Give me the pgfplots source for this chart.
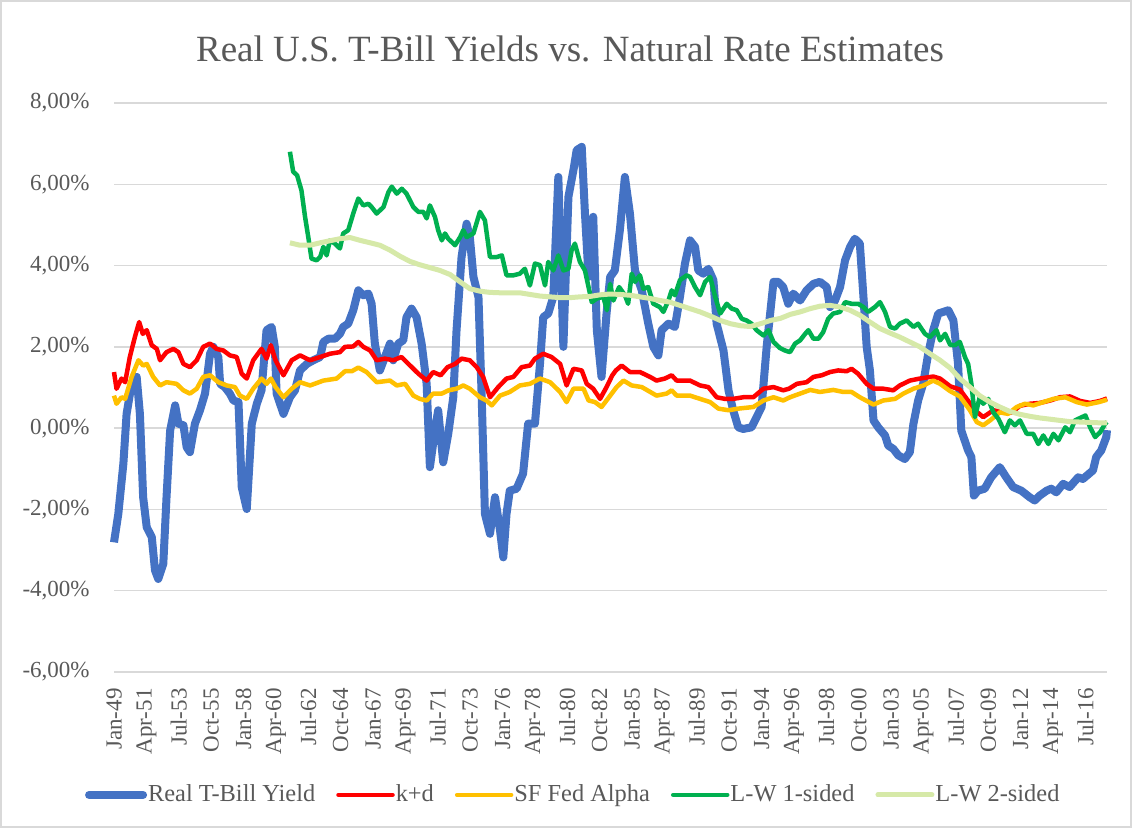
\documentclass[border=0pt]{standalone}
\usepackage{fontspec}
\setmainfont{Liberation Serif}
\usepackage{pgfplots}
\pgfplotsset{compat=1.18}
\definecolor{txt}{HTML}{595959}
\definecolor{gridc}{HTML}{D9D9D9}
\definecolor{cblue}{HTML}{4472C4}
\definecolor{cred}{HTML}{FF0000}
\definecolor{corange}{HTML}{FFC000}
\definecolor{cgreen}{HTML}{00B050}
\definecolor{clight}{HTML}{D6E9A8}
\begin{document}
\begin{tikzpicture}
\useasboundingbox (0,0) rectangle (566bp,414bp);
\fill[white] (0,0) rectangle (566bp,414bp);
\draw[gridc, line width=0.75bp] (0.5bp,0.5bp) rectangle (565.5bp,413.5bp);
\node[anchor=base, text=txt, font=\fontsize{18.5bp}{20bp}\selectfont] at (285bp,383bp) {Real U.S. T-Bill Yields vs. Natural Rate Estimates};
\begin{axis}[
  at={(57bp,78bp)}, anchor=south west,
  scale only axis, width=496.5bp, height=284.5bp,
  xmin=0, xmax=276, ymin=-6, ymax=8,
  clip=false,
  axis line style={draw=none},
  major tick length=0pt,
  ymajorgrids, grid style={gridc, line width=0.75bp},
  ytick={-6,-4,-2,0,2,4,6,8},
  yticklabels={{-6,00\%},{-4,00\%},{-2,00\%},{0,00\%},{2,00\%},{4,00\%},{6,00\%},{8,00\%}},
  xtick={0,9,...,270},
  xticklabels={Jan-49,Apr-51,Jul-53,Oct-55,Jan-58,Apr-60,Jul-62,Oct-64,Jan-67,Apr-69,Jul-71,Oct-73,Jan-76,Apr-78,Jul-80,Oct-82,Jan-85,Apr-87,Jul-89,Oct-91,Jan-94,Apr-96,Jul-98,Oct-00,Jan-03,Apr-05,Jul-07,Oct-09,Jan-12,Apr-14,Jul-16},
  tick label style={text=txt, font=\fontsize{11.5bp}{13bp}\selectfont},
  yticklabel style={anchor=east, inner sep=0pt},
  yticklabel shift=12bp,
  xticklabel style={rotate=90, anchor=east, inner sep=0pt},
  xticklabel shift=8bp,
  legend columns=5,
  legend style={at={(axis description cs:0.462,-0.216)}, anchor=center, draw=none, fill=none,
    font=\fontsize{12.2bp}{13bp}\selectfont, text=txt,
    /tikz/every even column/.append style={column sep=10bp},
    nodes={inner xsep=0.5bp}},
  legend image code/.code={\draw[#1, line cap=round] (0bp,0bp) -- (27bp,0bp);},
  every axis plot/.append style={line join=round},
]
\addplot[cblue, line width=4bp] coordinates {
(0,-2.81) (1.2,-2.11) (2.6,-0.88) (3.5,0.35) (4.9,1.09) (6.3,1.26) (7.2,0.35) (8.1,-1.70) (9.1,-2.44) (10.5,-2.68) (11.4,-3.50) (12.3,-3.71) (13.7,-3.34) (14.6,-1.70) (15.6,-0.06) (17,0.56) (17.9,0.11) (19.3,0.07) (20.2,-0.47) (21.1,-0.59) (22.5,0.11) (23.9,0.44) (25.3,0.85) (26.7,1.83) (27.6,2.0) (29,1.75) (29.5,1.09) (30.8,1.01) (32.2,0.85) (33.2,0.68) (34.6,0.64) (35.5,-1.45) (36.9,-1.99) (38.3,0.11) (39.7,0.60) (41,0.93) (42.4,2.41) (43.8,2.49) (44.7,2.0) (45.2,0.85) (47.1,0.35) (48.9,0.76) (50.3,0.93) (51.7,1.42) (53.6,1.58) (55.4,1.67) (57.3,1.75) (58.2,2.12) (59.6,2.2) (61.4,2.2) (62.8,2.32) (63.7,2.49) (65.1,2.57) (66.5,2.9) (67.9,3.39) (69.3,3.27) (70.7,3.31) (71.6,3.06) (72.5,2.08) (73.9,1.42) (75.3,1.75) (76.7,2.08) (77.6,1.67) (79,2.08) (80.4,2.16) (81.3,2.73) (82.7,2.94) (84.1,2.73) (85.5,2.08) (86.9,1.09) (87.8,-0.96) (89.2,-0.06) (90.1,0.44) (91.5,-0.84) (92.9,-0.14) (94.3,0.76) (95.2,2.4) (96.6,4.21) (98,5.03) (98.9,4.7) (99.9,3.72) (101.3,3.23) (102.2,0.76) (103.1,-2.11) (104.5,-2.6) (105.9,-1.7) (107.3,-2.52) (108.2,-3.18) (109.1,-2.11) (110,-1.54) (111.9,-1.49) (113.7,-1.12) (115.1,0.11) (117,0.11) (118.4,1.58) (119.3,2.73) (120.7,2.82) (122.1,3.23) (123.5,6.18) (124.9,2.0) (126.3,5.69) (127.7,6.35) (128.6,6.84) (130,6.92) (130.9,5.28) (131.9,3.72) (133.2,5.2) (134.2,2.41) (135.5,1.26) (136.9,2.82) (137.9,3.72) (139.2,3.88) (140.6,4.87) (142,6.18) (143.4,5.28) (144.8,3.88) (146.7,3.39) (148.5,2.57) (149.9,2.0) (151.3,1.79) (152.2,2.41) (154.1,2.57) (155.9,2.49) (157.3,3.23) (158.7,4.05) (160.1,4.62) (161.5,4.46) (162.4,3.88) (163.8,3.8) (165.2,3.92) (166.6,3.64) (167.5,2.57) (169.4,1.91) (170.8,0.93) (172.1,0.44) (173.5,0.02) (174.9,-0.02) (177.2,0.02) (178.6,0.27) (180,0.52) (181.4,2.0) (183.3,3.6) (184.6,3.6) (186,3.47) (187.4,3.06) (188.8,3.31) (190.7,3.14) (192.5,3.39) (194.4,3.55) (196.2,3.6) (198.1,3.47) (199,2.98) (200.4,3.14) (201.8,3.47) (203.2,4.13) (204.6,4.46) (205.9,4.66) (207.3,4.54) (208.3,3.23) (209.2,2.0) (210.1,1.42) (211.1,0.19) (212.4,0.02) (214.3,-0.18) (215.2,-0.43) (216.6,-0.51) (218,-0.67) (219.8,-0.76) (221.2,-0.59) (222.2,0.11) (223.5,0.68) (224.9,1.09) (226.3,1.83) (227.7,2.41) (229.1,2.82) (230.5,2.86) (231.9,2.9) (233.3,2.65) (234.6,1.58) (235.5,-0.06) (237.4,-0.55) (238.3,-0.71) (239,-1.66) (240.1,-1.54) (242,-1.49) (243.8,-1.21) (246.2,-0.96) (248,-1.21) (249.9,-1.45) (252.2,-1.54) (254.5,-1.7) (255.9,-1.78) (257.3,-1.66) (259.2,-1.54) (260.5,-1.49) (261.9,-1.58) (263.8,-1.37) (265.6,-1.45) (268,-1.21) (269.3,-1.25) (272.1,-1.04) (273,-0.71) (274.4,-0.55) (275.8,-0.22) (276,-0.05)
};
\addlegendentry{Real T-Bill Yield}
\addplot[cred, line width=2.25bp] coordinates {
(0,1.38) (0.7,0.97) (2.1,1.22) (3.1,1.13) (4.4,1.75) (5.8,2.24) (7,2.61) (8,2.32) (9.1,2.41) (10.5,2.04) (11.9,1.95) (12.8,1.67) (14.6,1.87) (16.5,1.95) (17.9,1.87) (19.3,1.58) (21.1,1.5) (23,1.67) (24.8,2.0) (26.7,2.08) (28.5,1.95) (30.4,1.91) (32.2,1.79) (34.1,1.75) (35.5,1.34) (36.9,1.22) (38.7,1.67) (41,1.95) (42.4,1.71) (43.6,2.04) (44.9,1.67) (47.1,1.3) (49.4,1.67) (51.7,1.79) (54.5,1.67) (57.3,1.75) (60,1.83) (62.8,1.87) (64.2,2.0) (66.5,2.01) (67.9,2.12) (69.3,2.0) (71.2,1.91) (73,1.67) (75.3,1.71) (77.6,1.67) (79.9,1.75) (82.3,1.54) (84.6,1.34) (86.9,1.17) (88.7,1.38) (90.8,1.3) (92.7,1.5) (94.8,1.58) (96.6,1.71) (98.9,1.67) (100.8,1.5) (102.6,1.26) (104.5,0.76) (106.8,1.01) (109.1,1.22) (111,1.26) (113.3,1.5) (115.6,1.54) (117,1.71) (119.3,1.83) (121.6,1.75) (124,1.58) (125.8,1.05) (127.7,1.46) (130,1.42) (131.4,1.09) (133.2,0.97) (135.1,0.72) (136.9,1.01) (138.5,1.3) (139.5,1.42) (141.1,1.54) (143.4,1.38) (146.2,1.38) (149,1.26) (150.8,1.17) (153.1,1.22) (155,1.3) (156.4,1.17) (160.1,1.17) (162.9,1.05) (165.2,1.01) (167.5,0.76) (169.8,0.72) (172.1,0.72) (174.9,0.76) (177.7,0.76) (180.5,0.97) (183.3,1.01) (186,0.93) (187.6,0.97) (189.8,1.09) (192.5,1.13) (194.4,1.26) (196.7,1.3) (199,1.38) (201.3,1.42) (203.6,1.4) (205,1.46) (206.8,1.34) (209.2,1.09) (211.1,0.97) (213.8,0.97) (216.6,0.93) (218.4,1.05) (221.2,1.17) (224,1.22) (227.7,1.27) (229.6,1.22) (232.4,1.03) (235.1,0.95) (237,0.72) (239.3,0.44) (241.6,0.27) (244.4,0.44) (246.7,0.40) (249.5,0.38) (251.8,0.55) (254.6,0.60) (257.4,0.62) (260.2,0.68) (262.9,0.76) (265.7,0.78) (268.5,0.67) (271.3,0.62) (274.1,0.67) (276,0.73)
};
\addlegendentry{k+d}
\addplot[corange, line width=2.25bp] coordinates {
(0,0.8) (0.7,0.6) (2.1,0.76) (3.1,0.72) (4.9,1.26) (6.8,1.67) (8.1,1.54) (9.1,1.58) (10.9,1.26) (12.8,1.05) (14.6,1.13) (17.4,1.09) (19.3,0.93) (21.1,0.85) (23,0.97) (24.8,1.26) (26.7,1.3) (29,1.13) (31.3,1.05) (33.6,1.01) (35,0.8) (36.9,0.72) (38.7,0.97) (41,1.22) (42.4,1.09) (43.6,1.22) (44.9,1.01) (47.1,0.76) (49.4,0.97) (51.7,1.13) (54.5,1.05) (58.2,1.17) (61.9,1.22) (64.2,1.4) (66.1,1.4) (67.9,1.49) (70.2,1.38) (73,1.13) (76.7,1.17) (78.6,1.05) (80.9,1.09) (83.2,0.8) (85,0.72) (86.9,0.68) (88.7,0.85) (91.1,0.85) (93,0.93) (95.2,0.97) (97.1,1.05) (98.9,0.97) (101.7,0.76) (103.5,0.68) (105,0.56) (107.3,0.8) (110,0.89) (112.8,1.05) (115.6,1.09) (118.4,1.22) (121.2,1.13) (124,0.89) (125.8,0.64) (127.7,0.97) (130.5,0.97) (131.9,0.68) (133.7,0.64) (135.5,0.52) (137.4,0.74) (139.7,1.01) (141.6,1.17) (143.9,1.05) (146.7,1.01) (150.8,0.8) (153.6,0.85) (155,0.93) (156.4,0.8) (160.1,0.8) (162.9,0.72) (165.7,0.64) (168,0.48) (170.8,0.44) (173.5,0.48) (177.7,0.52) (180.5,0.68) (183.3,0.76) (186,0.68) (187.9,0.76) (190.7,0.85) (193.5,0.94) (196.2,0.89) (199.9,0.94) (202.7,0.89) (205,0.89) (207.3,0.76) (211.1,0.58) (213.8,0.68) (217.1,0.72) (219.4,0.85) (222.2,0.97) (225,1.05) (227.7,1.17) (229.6,1.09) (232.4,0.91) (235.1,0.78) (237.9,0.44) (239.8,0.15) (241.6,0.07) (243.5,0.19) (246.2,0.39) (248.5,0.35) (250.9,0.52) (253.2,0.6) (255.5,0.56) (258.3,0.64) (261.1,0.72) (264.4,0.76) (267.6,0.64) (270.4,0.58) (273.7,0.64) (276,0.7)
};
\addlegendentry{SF Fed Alpha}
\addplot[cgreen, line width=2.25bp] coordinates {
(48.9,6.8) (49.8,6.31) (50.9,6.22) (52.1,5.85) (53.1,5.2) (54,4.7) (54.9,4.17) (56.3,4.13) (57.3,4.21) (58.2,4.46) (59.1,4.25) (60,4.62) (61.4,4.54) (62.8,4.42) (63.7,4.79) (65.1,4.87) (66.5,5.28) (67.9,5.65) (69.3,5.48) (70.7,5.52) (71.6,5.44) (73,5.28) (74.9,5.44) (76.3,5.81) (77.2,5.94) (78.6,5.77) (80,5.89) (81.3,5.77) (83.2,5.44) (84.6,5.32) (86,5.32) (86.9,5.16) (87.8,5.48) (89.2,5.2) (90.1,4.87) (91.1,4.62) (92,4.79) (92.9,4.66) (94.8,4.5) (96.2,4.7) (97.1,4.87) (98,4.7) (99.9,4.79) (101.7,5.32) (103.1,5.11) (104.5,4.21) (106.4,4.21) (107.8,4.25) (109.1,3.76) (111,3.76) (112.8,3.8) (114.2,3.92) (115.6,3.51) (117,4.05) (118.4,4.01) (119.8,3.51) (120.7,4.09) (122.1,3.88) (123.5,4.25) (124.9,3.88) (126.3,3.92) (127.2,4.38) (128.1,4.54) (129.5,4.09) (130.9,3.88) (131.9,3.47) (132.8,3.1) (134.2,3.19) (136,3.23) (137,2.9) (137.9,3.55) (138.8,3.14) (140.4,3.47) (142,3.27) (142.9,3.06) (143.9,3.8) (144.8,3.6) (146.2,3.76) (147.1,3.43) (148.5,3.47) (149.9,3.06) (151.7,2.98) (152.7,2.86) (154.1,3.14) (155,3.39) (155.9,3.27) (157.3,3.64) (159.2,3.76) (160.1,3.72) (161.5,3.47) (162.9,3.27) (164.3,3.6) (165.7,3.72) (167.1,3.23) (168.5,2.82) (170.3,3.06) (171.7,2.94) (173.1,2.9) (174.5,2.69) (175.8,2.65) (177.2,2.57) (178.6,2.41) (180.5,2.28) (181.9,2.41) (183.3,2.12) (185.1,1.97) (186.5,1.91) (187.9,1.87) (189.3,2.08) (190.7,2.16) (192.1,2.32) (193,2.41) (194.4,2.2) (195.8,2.2) (197.1,2.36) (198.5,2.69) (199.9,2.82) (201.8,2.86) (203.2,3.1) (205,3.06) (206.8,3.06) (208.3,2.98) (209.6,2.86) (211.5,2.98) (212.9,3.1) (214.3,2.86) (215.7,2.49) (217.1,2.45) (218.4,2.57) (220.3,2.65) (222.2,2.49) (223.5,2.57) (225.4,2.32) (226.8,2.24) (228.6,2.41) (229.6,2.16) (231,2.32) (232.4,2.05) (233.7,2.04) (235.1,2.12) (236.5,1.75) (237.4,1.58) (238.3,1.09) (239.3,0.27) (240.6,0.76) (241.6,0.6) (243,0.72) (244.4,0.39) (245.8,0.23) (247.6,-0.1) (249,0.19) (250.4,0.07) (251.8,0.19) (253.7,-0.14) (255.5,-0.14) (256.9,-0.39) (258.3,-0.18) (259.7,-0.39) (261.1,-0.14) (262.5,-0.3) (264.4,0.02) (265.7,-0.1) (267.1,0.19) (269,0.27) (270,0.31) (271.3,0.02) (272.7,-0.22) (274.1,-0.1) (275.5,0.11) (276,0.15)
};
\addlegendentry{L-W 1-sided}
\addplot[clight, line width=2.5bp] coordinates {
(48.9,4.56) (51.7,4.5) (54.5,4.5) (57.3,4.56) (60,4.61) (62.8,4.66) (65.6,4.69) (68.4,4.62) (71.2,4.56) (73.9,4.5) (76.7,4.38) (79.5,4.23) (82.3,4.1) (85,4.02) (87.8,3.95) (90.6,3.88) (93.4,3.78) (96.2,3.6) (98.9,3.43) (101.7,3.37) (104.5,3.34) (107.3,3.33) (110,3.33) (112.8,3.33) (115.6,3.29) (118.4,3.25) (121.2,3.23) (124,3.21) (126.7,3.21) (129.5,3.23) (132.3,3.24) (135.1,3.28) (137.9,3.3) (140.6,3.29) (143.4,3.27) (146.2,3.23) (149,3.19) (151.8,3.14) (154.5,3.1) (157.3,3.02) (160.1,2.94) (162.9,2.86) (165.7,2.76) (168.5,2.65) (171.3,2.57) (174.1,2.52) (176.9,2.5) (179.7,2.57) (182.5,2.65) (185.2,2.7) (188,2.8) (190.7,2.86) (193.5,2.94) (196.2,3.0) (199,3.02) (201.8,2.98) (204.6,2.9) (207.3,2.78) (210.1,2.61) (212.9,2.45) (215.7,2.34) (218.4,2.24) (221.2,2.12) (224,2.0) (226.8,1.83) (229.6,1.67) (232.4,1.48) (235.1,1.22) (237.9,1.01) (240.6,0.8) (243.5,0.64) (246.2,0.52) (249,0.41) (251.8,0.34) (254.6,0.29) (257.4,0.25) (260.2,0.22) (262.9,0.19) (265.7,0.16) (268.5,0.15) (271.3,0.14) (274.1,0.13) (276,0.13)
};
\addlegendentry{L-W 2-sided}
\end{axis}
\end{tikzpicture}
\end{document}
